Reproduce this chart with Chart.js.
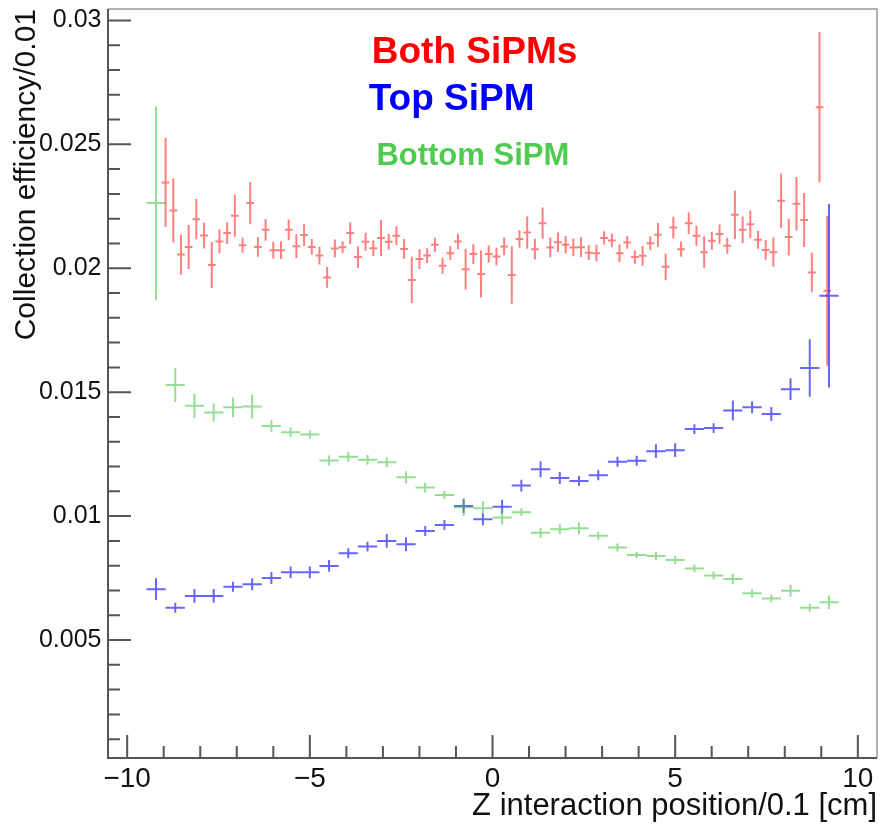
<!DOCTYPE html>
<html>
<head>
<meta charset="utf-8">
<script src="https://cdn.jsdelivr.net/npm/chart.js@4.4.1/dist/chart.umd.min.js"></script>
<style>
  html, body { margin: 0; padding: 0; background: #fff; }
  canvas { display: block; }
</style>
</head>
<body>
<canvas id="effChart" width="883" height="828"></canvas>
<script>
// histogram binning (bin centres are taken from these)
const bothFirstLowEdge = -9.054;
const bothBinWidth = 0.2106;
const sideFirstLowEdge = -10 + 20 / 38;
const sideBinWidth = 20 / 38;

// Both SiPMs (red)
const bothValues = [
  0.02346, 0.02233, 0.02055, 0.02086, 0.02198, 0.02132, 0.02013, 0.02108, 0.02142, 0.02212,
  0.02093, 0.02263, 0.02086, 0.02155, 0.02073, 0.02073, 0.02155, 0.02089, 0.02134, 0.02086,
  0.02051, 0.01963, 0.0208, 0.02085, 0.02142, 0.02045, 0.02107, 0.02081, 0.02122, 0.02107,
  0.02131, 0.02078, 0.01953, 0.02037, 0.02051, 0.02095, 0.0201, 0.02061, 0.02108, 0.01996,
  0.02057, 0.01977, 0.02057, 0.02047, 0.02088, 0.01973, 0.02118, 0.02144, 0.02077, 0.02182,
  0.02084, 0.02105, 0.02095, 0.02084, 0.02085, 0.02063, 0.02061, 0.02122, 0.02112, 0.02061,
  0.02104, 0.02045, 0.0205, 0.02101, 0.02135, 0.02006, 0.02164, 0.02077, 0.02182, 0.02131,
  0.02065, 0.02111, 0.02138, 0.02091, 0.02216, 0.02155, 0.02178, 0.02115, 0.02074, 0.02065,
  0.02272, 0.02126, 0.0226, 0.02195, 0.01983, 0.0265, 0.01909
];
const bothErrors = [
  0.0018, 0.00129, 0.00081, 0.00089, 0.00081, 0.00052, 0.00093, 0.00048, 0.00044, 0.00085,
  0.0003, 0.00085, 0.0004, 0.00044, 0.00034, 0.00036, 0.00042, 0.00048, 0.00044, 0.00032,
  0.00036, 0.00042, 0.00036, 0.00024, 0.00044, 0.00044, 0.00036, 0.00032, 0.00073, 0.00032,
  0.00038, 0.0004, 0.00093, 0.0004, 0.0003, 0.00028, 0.00032, 0.00028, 0.00031, 0.00083,
  0.0004, 0.00095, 0.00035, 0.00036, 0.00036, 0.00116, 0.00035, 0.00065, 0.00042, 0.00063,
  0.0004, 0.00039, 0.00035, 0.00036, 0.0004, 0.0003, 0.00034, 0.00027, 0.00027, 0.00036,
  0.00025, 0.00027, 0.0004, 0.00028, 0.00048, 0.00054, 0.00044, 0.00031, 0.00044, 0.0004,
  0.00064, 0.00036, 0.00039, 0.00032, 0.00098, 0.00054, 0.00055, 0.00036, 0.0004, 0.00059,
  0.00109, 0.00075, 0.00108, 0.00109, 0.0008, 0.00303, 0.00302
];

// Top SiPM (blue)
const topValues = [
  0.00705, 0.0063, 0.00678, 0.00678, 0.00715, 0.00725, 0.0075, 0.00773, 0.00773, 0.00799,
  0.0085, 0.00877, 0.009, 0.00886, 0.0094, 0.00964, 0.01041, 0.00987, 0.01038, 0.01123,
  0.01189, 0.01154, 0.01142, 0.01165, 0.01219, 0.01223, 0.01262, 0.01266, 0.01351, 0.01355,
  0.01426, 0.01439, 0.01412, 0.01512, 0.01598, 0.01889
];
const topErrors = [
  0.00044, 0.0002, 0.00028, 0.00028, 0.0002, 0.00024, 0.00024, 0.00024, 0.00024, 0.00024,
  0.0002, 0.0002, 0.00028, 0.00028, 0.0002, 0.0002, 0.00028, 0.00024, 0.00028, 0.00024,
  0.00032, 0.00024, 0.0002, 0.0002, 0.0002, 0.0002, 0.00028, 0.00028, 0.0002, 0.0002,
  0.0004, 0.00024, 0.00028, 0.00044, 0.00116, 0.0037
];

// Bottom SiPM (green)
const bottomValues = [
  0.02263, 0.01529, 0.01445, 0.01418, 0.01439, 0.01442, 0.01364, 0.01338, 0.01329, 0.01224,
  0.01239, 0.01227, 0.01217, 0.01157, 0.01115, 0.01085, 0.01036, 0.01032, 0.00994, 0.01016,
  0.00933, 0.00947, 0.00951, 0.00921, 0.00873, 0.00843, 0.00839, 0.00823, 0.00789, 0.0076,
  0.00746, 0.00689, 0.00668, 0.00699, 0.0063, 0.00652
];
const bottomErrors = [
  0.0039, 0.00069, 0.00048, 0.00036, 0.0004, 0.00048, 0.00024, 0.0002, 0.00016, 0.0002,
  0.0002, 0.0002, 0.0002, 0.00024, 0.0002, 0.00016, 0.00036, 0.00028, 0.00028, 0.00016,
  0.0002, 0.0002, 0.00024, 0.00016, 0.00016, 0.00012, 0.00016, 0.00016, 0.00016, 0.00016,
  0.0002, 0.00016, 0.00016, 0.00024, 0.00016, 0.00028
];

const xMajorTicks = [-10, -5, 0, 5, 10];
const yMajorTicks = [0.005, 0.01, 0.015, 0.02, 0.025, 0.03];

function toPoints(values, lowEdge, width) {
  return values.map((v, i) => ({ x: lowEdge + (i + 0.5) * width, y: v }));
}

// draws ROOT style error crosses: bin width horizontally, error vertically
const errorCrosses = {
  id: 'errorCrosses',
  afterDatasetsDraw(chart) {
    const { ctx, chartArea, scales: { x, y } } = chart;
    ctx.save();
    ctx.beginPath();
    ctx.rect(chartArea.left, chartArea.top, chartArea.right - chartArea.left, chartArea.bottom - chartArea.top);
    ctx.clip();
    chart.data.datasets.forEach(ds => {
      ctx.strokeStyle = ds.barColor;
      ctx.lineWidth = 2;
      ds.data.forEach((p, i) => {
        const px = x.getPixelForValue(p.x);
        const x0 = x.getPixelForValue(p.x - ds.binWidth / 2);
        const x1 = x.getPixelForValue(p.x + ds.binWidth / 2);
        const py = y.getPixelForValue(p.y);
        const y0 = y.getPixelForValue(p.y - ds.errors[i]);
        const y1 = y.getPixelForValue(p.y + ds.errors[i]);
        ctx.beginPath();
        ctx.moveTo(x0, py); ctx.lineTo(x1, py);
        ctx.moveTo(px, y0); ctx.lineTo(px, y1);
        ctx.stroke();
      });
    });
    ctx.restore();
  }
};

// frame and inward tick marks
const rootFrame = {
  id: 'rootFrame',
  afterDraw(chart) {
    const { ctx, chartArea: a, scales: { x, y } } = chart;
    ctx.save();
    ctx.strokeStyle = '#999';
    ctx.lineWidth = 1.5;
    ctx.beginPath();
    ctx.moveTo(a.left, a.top); ctx.lineTo(a.right, a.top); ctx.lineTo(a.right, a.bottom);
    ctx.stroke();

    ctx.strokeStyle = '#555';
    ctx.lineWidth = 2;
    ctx.beginPath();
    ctx.moveTo(a.left, a.top); ctx.lineTo(a.left, a.bottom); ctx.lineTo(a.right, a.bottom);
    for (let v = -10; v <= 10; v++) {
      const px = x.getPixelForValue(v);
      const len = v % 5 === 0 ? 23 : 12;
      ctx.moveTo(px, a.bottom); ctx.lineTo(px, a.bottom - len);
    }
    for (let m = 1; m <= 30; m++) {
      const py = y.getPixelForValue(m / 1000);
      const len = m % 5 === 0 ? 23 : 12;
      ctx.moveTo(a.left, py); ctx.lineTo(a.left + len, py);
    }
    ctx.stroke();
    ctx.restore();
  }
};

// the coloured labels inside the frame
const seriesLabels = {
  id: 'seriesLabels',
  afterDraw(chart) {
    const { ctx, chartArea: a } = chart;
    const w = a.right - a.left;
    ctx.save();
    ctx.textAlign = 'left';
    ctx.textBaseline = 'alphabetic';
    ctx.font = 'bold 37px "Liberation Sans", Arial, sans-serif';
    ctx.fillStyle = '#ff0000';
    ctx.fillText('Both SiPMs', a.left + w * 0.343, a.top + 54);
    ctx.fillStyle = '#0000ff';
    ctx.fillText('Top SiPM', a.left + w * 0.339, a.top + 101);
    ctx.font = 'bold 31px "Liberation Sans", Arial, sans-serif';
    ctx.fillStyle = '#4fcb4f';
    ctx.fillText('Bottom SiPM', a.left + w * 0.349, a.top + 156);
    ctx.restore();
  }
};

const ctx = document.getElementById('effChart').getContext('2d');

new Chart(ctx, {
  type: 'scatter',
  data: {
    datasets: [
      {
        label: 'Both SiPMs',
        data: toPoints(bothValues, bothFirstLowEdge, bothBinWidth),
        errors: bothErrors,
        binWidth: bothBinWidth,
        barColor: 'rgba(255, 0, 0, 0.5)',
        pointRadius: 0
      },
      {
        label: 'Top SiPM',
        data: toPoints(topValues, sideFirstLowEdge, sideBinWidth),
        errors: topErrors,
        binWidth: sideBinWidth,
        barColor: 'rgba(0, 0, 255, 0.6)',
        pointRadius: 0
      },
      {
        label: 'Bottom SiPM',
        data: toPoints(bottomValues, sideFirstLowEdge, sideBinWidth),
        errors: bottomErrors,
        binWidth: sideBinWidth,
        barColor: 'rgba(40, 190, 40, 0.5)',
        pointRadius: 0
      }
    ]
  },
  options: {
    responsive: false,
    animation: false,
    layout: { padding: { top: 9, right: 6, bottom: 0, left: 0 } },
    plugins: {
      legend: { display: false },
      tooltip: { enabled: false }
    },
    scales: {
      x: {
        type: 'linear',
        min: -10.525,
        max: 10.525,
        afterBuildTicks: s => { s.ticks = xMajorTicks.map(v => ({ value: v })); },
        afterFit: s => { s.height = 70; s.paddingLeft = 0; s.paddingRight = 0; },
        grid: { display: false, tickLength: 0 },
        border: { display: false },
        ticks: {
          autoSkip: false,
          maxRotation: 0,
          padding: 4,
          color: '#111',
          font: { family: '"Liberation Sans", Arial, sans-serif', size: 28 },
          callback: v => String(v).replace('-', '\u2212')
        },
        title: {
          display: true,
          text: 'Z interaction position/0.1 [cm]',
          align: 'end',
          color: '#111',
          padding: { top: 0, bottom: 3 },
          font: { family: '"Liberation Sans", Arial, sans-serif', size: 31 }
        }
      },
      y: {
        type: 'linear',
        min: 0.00024,
        max: 0.03046,
        afterBuildTicks: s => { s.ticks = yMajorTicks.map(v => ({ value: v })); },
        afterFit: s => { s.width = 108; s.paddingTop = 0; s.paddingBottom = 0; },
        grid: { display: false, tickLength: 0 },
        border: { display: false },
        ticks: {
          padding: 6.5,
          color: '#111',
          font: { family: '"Liberation Sans", Arial, sans-serif', size: 25 },
          callback: v => String(Number(v.toFixed(3)))
        },
        title: {
          display: true,
          text: 'Collection efficiency/0.01',
          align: 'end',
          color: '#111',
          padding: { top: 9, bottom: 0 },
          font: { family: '"Liberation Sans", Arial, sans-serif', size: 30 }
        }
      }
    }
  },
  plugins: [errorCrosses, rootFrame, seriesLabels]
});
</script>
</body>
</html>
